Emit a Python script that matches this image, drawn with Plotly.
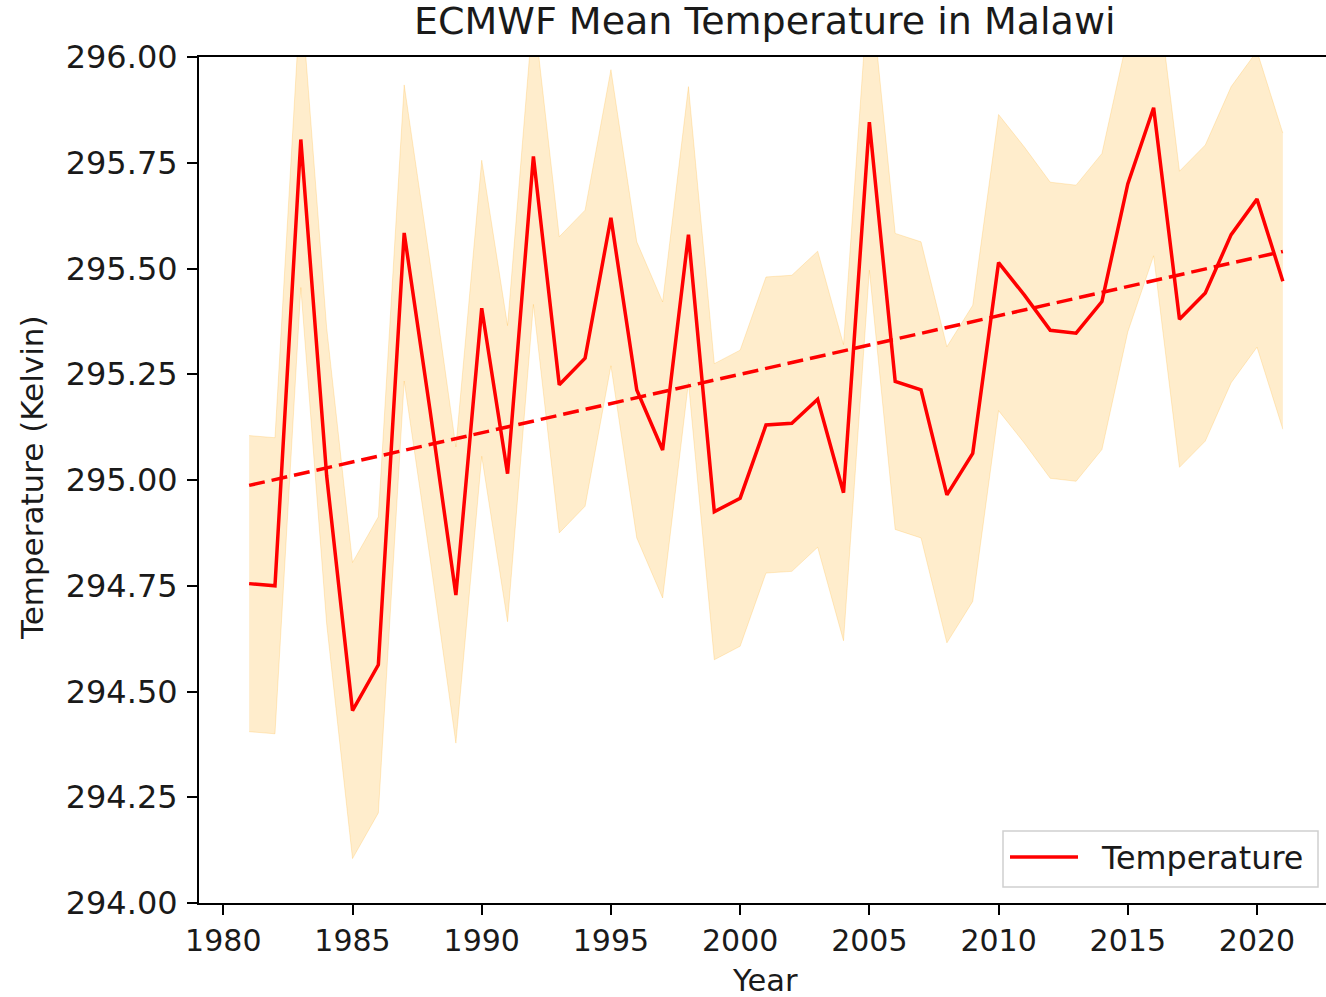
import numpy as np
import plotly.graph_objects as go

years = list(range(1981, 2022))
temperature = [
    294.755, 294.750, 295.805, 295.010, 294.455, 294.563, 295.584, 295.165,
    294.728, 295.406, 295.015, 295.765, 295.225, 295.288, 295.620, 295.213,
    295.071, 295.580, 294.925, 294.957, 295.130, 295.134, 295.191, 294.970,
    295.846, 295.233, 295.213, 294.965, 295.063, 295.514, 295.437, 295.354,
    295.347, 295.422, 295.700, 295.880, 295.380, 295.442, 295.580, 295.664,
    295.470,
]
band_half_width = 0.35
x_ticks = [1980, 1985, 1990, 1995, 2000, 2005, 2010, 2015, 2020]
y_ticks = [294.00, 294.25, 294.50, 294.75, 295.00, 295.25, 295.50, 295.75, 296.00]
legend_label = "Temperature"

temp = np.array(temperature)
lower = temp - band_half_width
upper = temp + band_half_width
slope, intercept = np.polyfit(years, temp, 1)
trend = slope * np.array(years) + intercept

FONT = "DejaVu Sans"
TXT = "#1a1a1a"
fig = go.Figure()
fig.add_trace(go.Scatter(x=years, y=lower, mode="lines",
                         line=dict(width=1, color="rgba(255,165,0,0.2)"),
                         showlegend=False, hoverinfo="skip"))
fig.add_trace(go.Scatter(x=years, y=upper, mode="lines", fill="tonexty",
                         fillcolor="rgba(255,165,0,0.2)",
                         line=dict(width=1, color="rgba(255,165,0,0.2)"),
                         showlegend=False, hoverinfo="skip"))
fig.add_trace(go.Scatter(x=years, y=temperature, mode="lines", name=legend_label,
                         showlegend=False, line=dict(color="#ff0000", width=3.5)))
fig.add_trace(go.Scatter(x=years, y=trend, mode="lines", showlegend=False,
                         line=dict(color="#ff0000", width=3.5, dash="16px,7px")))

W, H = 1326, 997
ml, mr, mt, mb = 199, 0, 57, 94
pw, ph = W - ml - mr, H - mt - mb


def px(xp):
    return (xp - ml) / pw


def py(yp):
    return (H - mb - yp) / ph


shapes = [
    dict(type="rect", xref="paper", yref="paper", x0=px(1003), x1=px(1318),
         y0=py(887), y1=py(831), line=dict(color="#d0d0d0", width=1.5),
         fillcolor="rgba(255,255,255,0.8)", layer="above"),
    dict(type="line", xref="paper", yref="paper", x0=px(1010), x1=px(1078),
         y0=py(857), y1=py(857), line=dict(color="#ff0000", width=3.5), layer="above"),
]

fig.update_layout(
    width=W, height=H,
    margin=dict(l=ml, r=mr, t=mt, b=mb, pad=0),
    paper_bgcolor="white", plot_bgcolor="white",
    font=dict(family=FONT, size=30, color=TXT),
    showlegend=False,
    shapes=shapes,
    annotations=[
        dict(text="ECMWF Mean Temperature in Malawi", xref="paper", yref="paper",
             x=px(765), y=1, yanchor="bottom", xanchor="center",
             yshift=12, showarrow=False, font=dict(family=FONT, size=38, color=TXT)),
        dict(text="Year", xref="paper", yref="paper",
             x=px(765), y=0, yanchor="top", xanchor="center",
             yshift=-58, showarrow=False, font=dict(family=FONT, size=30.5, color=TXT)),
        dict(text="Temperature (Kelvin)", xref="paper", yref="paper",
             x=0, y=py(478), xanchor="center", yanchor="middle", xshift=-(199 - 32),
             textangle=-90, showarrow=False, font=dict(family=FONT, size=31, color=TXT)),
        dict(text=legend_label, xref="paper", yref="paper",
             x=px(1099), y=py(857), xanchor="left", yanchor="middle",
             showarrow=False, font=dict(family=FONT, size=31.8, color=TXT)),
    ],
)
fig.update_xaxes(range=[1979.06, 2022.67], tickvals=x_ticks, ticktext=[str(v) for v in x_ticks],
                 showline=True, linecolor="#000000", linewidth=2, mirror=True,
                 ticks="outside", ticklen=10, tickwidth=2, tickcolor="#000000",
                 showgrid=False, zeroline=False,
                 tickfont=dict(family=FONT, size=30, color=TXT))
fig.update_yaxes(range=[294.0, 296.0], tickvals=y_ticks, ticktext=[f"{v:.2f}" for v in y_ticks],
                 showline=True, linecolor="#000000", linewidth=2, mirror=False,
                 ticks="outside", ticklen=10, tickwidth=2, tickcolor="#000000",
                 ticklabelstandoff=3,
                 showgrid=False, zeroline=False,
                 tickfont=dict(family=FONT, size=32, color=TXT))

fig.write_html("out.html")
